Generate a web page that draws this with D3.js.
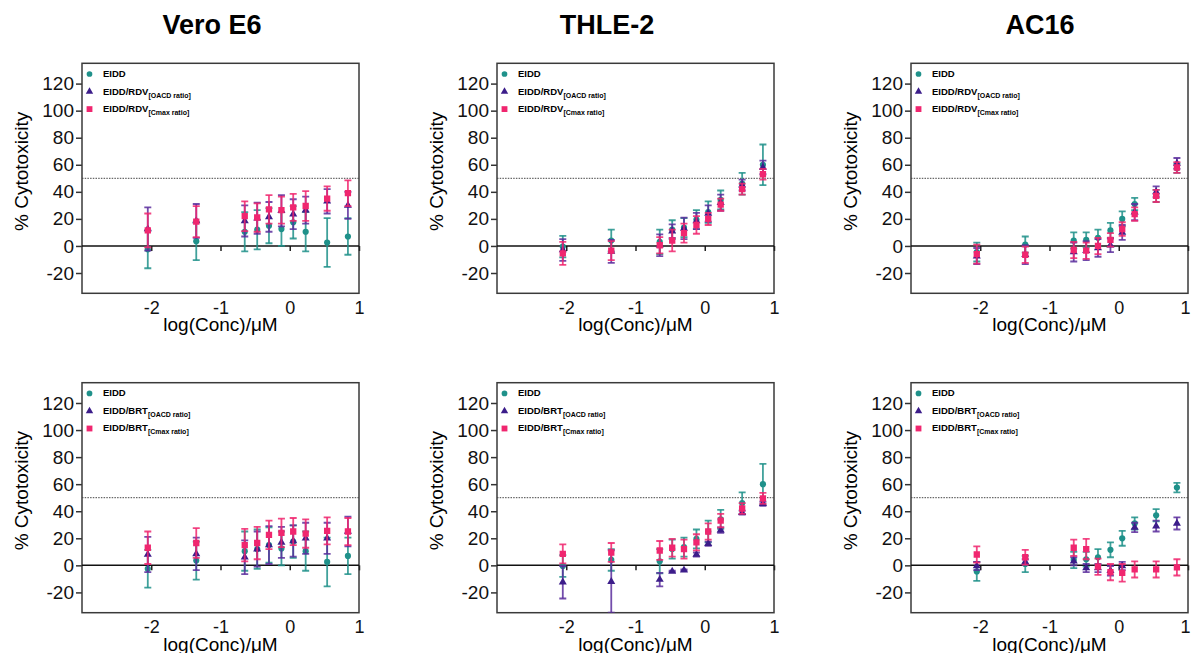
<!DOCTYPE html>
<html>
<head>
<meta charset="utf-8">
<script src="https://cdn.jsdelivr.net/npm/d3@7"></script>
<style>
  body { margin: 0; background: #fff; }
  text { font-family: "Liberation Sans", Arial, sans-serif; }
</style>
</head>
<body>
<div id="chart"></div>
<script>
// cytotoxicity dose-response, 2 rows (RDV / BRT combos) x 3 cell lines

const logConc = [-2.05, -1.35, -0.65, -0.47, -0.30, -0.12, 0.05, 0.23, 0.54, 0.84];
const cellLines = ["Vero E6", "THLE-2", "AC16"];
const yTicks = [-20, 0, 20, 40, 60, 80, 100, 120];
const xTicks = [-2, -1, 0, 1];

// EIDD alone (same in both rows)
const eiddVero = [-2.5, 3.5, 10.5, 12, 15, 12.5, 17.5, 10.5, 2.5, 7];
const eiddVeroSd = [14, 14, 14.5, 14.5, 13, 12.5, 12, 14.5, 18, 13.5];
const eiddThle = [-0.5, 4, 3, 12, 13.5, 19.5, 25, 34, 46, 60];
const eiddThleSd = [8, 8, 9, 7, 7, 7, 8, 7, 8, 15];
const eiddAc16 = [-4.5, 1, 4, 4.5, 6, 11.5, 20, 31, 37, 57.5];
const eiddAc16Sd = [7, 6, 6, 5.5, 6, 5.5, 5.5, 4.5, 4.5, 3.5];

// EIDD/RDV
const rdvOacdVero = [12.5, 18.5, 18.5, 20.5, 21.5, 26, 23.5, 26.5, 33, 30];
const rdvOacdVeroSd = [16, 12.5, 11.5, 11.5, 11, 11.5, 11, 10, 9, 10];
const rdvCmaxVero = [11.5, 18, 22, 21, 27, 26.5, 28.5, 29.5, 35, 39];
const rdvCmaxVeroSd = [12.5, 11.5, 11, 10.5, 10.5, 10, 10, 11, 9, 9.5];
const rdvOacdThle = [-3, -4, 0.5, 11, 13, 18.5, 24, 32, 45, 58];
const rdvOacdThleSd = [8, 8.5, 8, 5, 8, 6, 6, 6, 4, 5];
const rdvCmaxThle = [-5.5, -3.5, 0.5, 4, 9.5, 15.5, 20, 30.5, 42, 53];
const rdvCmaxThleSd = [8.5, 7, 6, 8, 7, 6.5, 4.5, 4.5, 4, 4];
const rdvOacdAc16 = [-7.5, -6.5, -4.5, -3.5, -1.5, 0.5, 10, 25, 40, 61];
const rdvOacdAc16Sd = [6, 7, 7, 7, 6.5, 5, 5.5, 6, 4, 4];
const rdvCmaxAc16 = [-6, -6.5, -3, -3.5, 0, 4.5, 12.5, 23.5, 37, 58];
const rdvCmaxAc16Sd = [7, 6, 6, 6, 6, 5, 5, 5, 4.5, 4];

// EIDD/BRT
const brtOacdVero = [8, 8.5, 6, 12, 15, 17, 18, 20, 20, 25];
const brtOacdVeroSd = [13, 12, 12.5, 13, 14, 11.5, 11.5, 11.5, 11.5, 11];
const brtCmaxVero = [13, 16.5, 15, 16.5, 22.5, 24, 25, 23.5, 25.5, 25];
const brtCmaxVeroSd = [12, 11, 12, 12, 10.5, 10.5, 10, 10.5, 10, 10];
const brtOacdThle = [-12.5, -12, -10.5, -4.5, -3.5, 8, 16, 26, 39, 45.5];
const brtOacdThleSd = [12, 23, 5, 0.5, 0.5, 1.5, 1.5, 2, 1.5, 1.5];
const brtCmaxThle = [8.5, 9.5, 11, 13, 12, 17, 25, 33, 42, 49.5];
const brtCmaxThleSd = [7, 7, 7, 6.5, 7, 6, 6, 5, 4, 4];
const brtOacdAc16 = [-0.5, 2.5, 3, -2, -2, -4, -0.5, 28, 29, 31];
const brtOacdAc16Sd = [3, 2, 3, 3, 3, 3.5, 3, 3.5, 4, 4.5];
const brtCmaxAc16 = [8, 6, 13, 12, -1, -5, -5.5, -3, -3, -1.5];
const brtCmaxAc16Sd = [6, 5.5, 6, 7.5, 6, 6, 6.5, 6, 6, 6];

const teal = "#1f918a", purple = "#3c1d8a", pink = "#f0266f";

const width = 1191, height = 653;
const pw = 277, ph = 230;
const lefts = [82, 497, 911];
const tops = [63.3, 382.7];

const svg = d3.select("#chart").append("svg")
  .attr("width", width)
  .attr("height", height);

// titles
const titleX = [212, 607, 1040];
svg.selectAll(".title")
  .data(cellLines)
  .enter().append("text")
  .attr("class", "title")
  .attr("x", (d, i) => titleX[i])
  .attr("y", 34)
  .attr("text-anchor", "middle")
  .attr("font-size", "27px")
  .attr("font-weight", "bold")
  .text(d => d);

const eidd = [[eiddVero, eiddVeroSd], [eiddThle, eiddThleSd], [eiddAc16, eiddAc16Sd]];
const rdv = [
  [[rdvOacdVero, rdvOacdVeroSd], [rdvCmaxVero, rdvCmaxVeroSd]],
  [[rdvOacdThle, rdvOacdThleSd], [rdvCmaxThle, rdvCmaxThleSd]],
  [[rdvOacdAc16, rdvOacdAc16Sd], [rdvCmaxAc16, rdvCmaxAc16Sd]]
];
const brt = [
  [[brtOacdVero, brtOacdVeroSd], [brtCmaxVero, brtCmaxVeroSd]],
  [[brtOacdThle, brtOacdThleSd], [brtCmaxThle, brtCmaxThleSd]],
  [[brtOacdAc16, brtOacdAc16Sd], [brtCmaxAc16, brtCmaxAc16Sd]]
];

function toPoints(pair) {
  return logConc.map((c, i) => ({ x: c, m: pair[0][i], s: pair[1][i] }));
}

const panels = [];
[["RDV", rdv], ["BRT", brt]].forEach(([drug, combo], row) => {
  cellLines.forEach((cl, col) => {
    panels.push({
      row, col, drug,
      series: [
        { label: "EIDD", sub: "", color: teal, shape: d3.symbolCircle, size: 30, pts: toPoints(eidd[col]) },
        { label: "EIDD/" + drug, sub: "[OACD ratio]", color: purple, bar: "#5b2d9c", shape: d3.symbolTriangle, size: 28, pts: toPoints(combo[col][0]) },
        { label: "EIDD/" + drug, sub: "[Cmax ratio]", color: pink, shape: d3.symbolSquare, size: 40, pts: toPoints(combo[col][1]) }
      ]
    });
  });
});

panels.forEach((p, k) => {
  const g = svg.append("g")
    .attr("transform", `translate(${lefts[p.col]},${tops[p.row]})`);

  const x = d3.scaleLinear().domain([-3, 1]).range([0, pw]);
  const y = d3.scaleLinear().domain([-35, 135]).range([ph, 0]);

  g.append("clipPath").attr("id", "clip" + k)
    .append("rect").attr("width", pw).attr("height", ph);

  // y axis
  const yAxis = g.append("g")
    .call(d3.axisLeft(y).tickValues(yTicks).tickSize(6).tickPadding(2)
      .tickFormat(d => d < 0 ? "-" + Math.abs(d) : d));
  yAxis.select(".domain").remove();
  yAxis.selectAll("line").attr("stroke", "#333").attr("stroke-width", 1.5);
  yAxis.selectAll("text").attr("font-size", "19px").attr("fill", "#111")
    .style("font-family", '"Liberation Sans", Arial, sans-serif');

  // x tick labels below the frame
  const xLab = g.append("g")
    .attr("transform", `translate(0,${ph})`)
    .call(d3.axisBottom(x).tickValues(xTicks).tickSize(0).tickPadding(8)
      .tickFormat(d => d < 0 ? "-" + Math.abs(d) : d));
  xLab.select(".domain").remove();
  xLab.selectAll("text").attr("font-size", "18px").attr("fill", "#111")
    .style("font-family", '"Liberation Sans", Arial, sans-serif')
    .attr("dx", d => (d === 1 && p.col === 2) ? -3 : 0);

  // frame
  g.append("rect")
    .attr("width", pw).attr("height", ph)
    .attr("fill", "none")
    .attr("stroke", "#3a3a3a")
    .attr("stroke-width", 1.5);

  // zero line with ticks
  const zero = g.append("g")
    .attr("transform", `translate(0,${y(0)})`)
    .call(d3.axisBottom(x).tickValues(xTicks).tickSize(5).tickFormat(""));
  zero.select(".domain").remove();
  zero.selectAll("line").attr("stroke", "#222").attr("stroke-width", 1.5);
  g.append("line")
    .attr("x1", 0).attr("x2", pw)
    .attr("y1", y(0)).attr("y2", y(0))
    .attr("stroke", "#111").attr("stroke-width", 1.5);

  // 50% line
  g.append("line")
    .attr("x1", 0).attr("x2", pw)
    .attr("y1", y(50)).attr("y2", y(50))
    .attr("stroke", "#444").attr("stroke-width", 1)
    .attr("stroke-dasharray", "1.5,1.2");

  // axis titles
  g.append("text")
    .attr("transform", `translate(-61,${ph / 2 - 7}) rotate(-90)`)
    .attr("text-anchor", "middle")
    .attr("dy", "0.35em")
    .attr("font-size", "19px")
    .text("% Cytotoxicity");
  g.append("text")
    .attr("x", pw / 2)
    .attr("y", ph + 38)
    .attr("text-anchor", "middle")
    .attr("font-size", "19px")
    .text("log(Conc)/μM");

  // data: error bars then markers
  const plot = g.append("g").attr("clip-path", `url(#clip${k})`);
  const cap = 3.5;
  p.series.forEach(s => {
    const sg = plot.append("g");
    const barColor = s.bar || s.color;
    const eb = sg.selectAll(".eb")
      .data(s.pts)
      .enter().append("g")
      .attr("stroke", barColor)
      .attr("stroke-width", 1.8)
      .attr("stroke-opacity", 0.85);
    eb.append("line")
      .attr("x1", d => x(d.x)).attr("x2", d => x(d.x))
      .attr("y1", d => y(d.m - d.s)).attr("y2", d => y(d.m + d.s));
    eb.append("line")
      .attr("x1", d => x(d.x) - cap).attr("x2", d => x(d.x) + cap)
      .attr("y1", d => y(d.m + d.s)).attr("y2", d => y(d.m + d.s));
    eb.append("line")
      .attr("x1", d => x(d.x) - cap).attr("x2", d => x(d.x) + cap)
      .attr("y1", d => y(d.m - d.s)).attr("y2", d => y(d.m - d.s));
    sg.selectAll(".mk")
      .data(s.pts)
      .enter().append("path")
      .attr("transform", d => `translate(${x(d.x)},${y(d.m)})`)
      .attr("d", d3.symbol().type(s.shape).size(s.size))
      .attr("fill", s.color);
  });

  // legend
  const lg = g.append("g");
  const rowY = [10.7, 28.3, 45.8];
  p.series.forEach((s, i) => {
    lg.append("path")
      .attr("transform", `translate(7.5,${rowY[i]})`)
      .attr("d", d3.symbol().type(s.shape).size(s.size * 0.85))
      .attr("fill", s.color);
    const t = lg.append("text")
      .attr("x", 21)
      .attr("y", rowY[i] + 3)
      .attr("font-size", "9.5px")
      .attr("font-weight", "bold")
      .text(s.label);
    if (s.sub) {
      t.append("tspan")
        .attr("dy", 3)
        .attr("font-size", "7px")
        .text(s.sub);
    }
  });
});
</script>
</body>
</html>
